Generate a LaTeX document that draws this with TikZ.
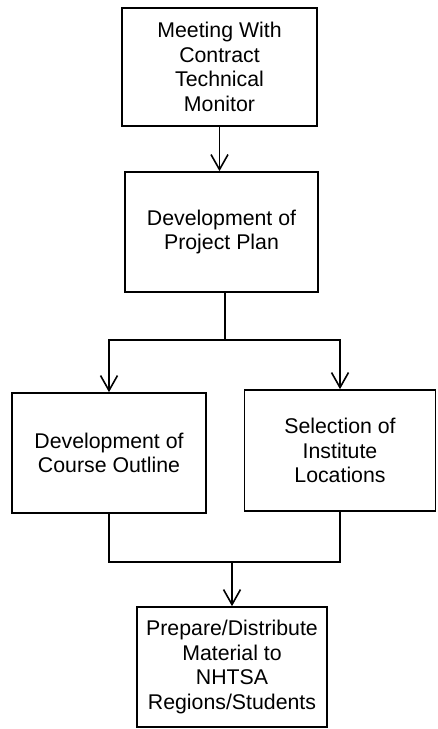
\documentclass[tikz,border=0pt]{standalone}
\usepackage{fontspec}
\setmainfont{Liberation Sans}
\usetikzlibrary{arrows.meta}
\begin{document}
\begin{tikzpicture}[x=1pt,y=-1pt,
  box/.style={draw, line width=1.7pt, inner sep=0pt, align=center,
    font=\fontsize{21.3}{24.5}\selectfont},
  conn/.style={line width=1.7pt},
  arr/.style={conn, -{Straight Barb[length=15pt,width=17pt,line width=1.6pt]}}]
\useasboundingbox (0,0) rectangle (437,729);
\node[box, minimum width=195pt, minimum height=118pt] (b1) at (219.5,67) {Meeting With\\Contract\\Technical\\Monitor};
\node[box, minimum width=193pt, minimum height=120pt] (b2) at (221.5,232) {Development of\\Project Plan};
\node[box, minimum width=194pt, minimum height=120pt] (b3) at (109,453) {Development of\\Course Outline};
\node[box, minimum width=191pt, minimum height=121pt] (b4) at (340,450.5) {Selection of\\Institute\\Locations};
\node[box, minimum width=190pt, minimum height=120pt] (b5) at (232,667) {Prepare/Distribute\\Material to\\NHTSA\\Regions/Students};
\coordinate (j1) at (225,340);
\coordinate (j2) at (232,562);
\draw[arr] (b1.south) -- (b1.south |- b2.north);
\draw[conn] (b2.south -| j1) -- (j1);
\draw[arr] (j1) -| (b3.north);
\draw[arr] (j1) -| (b4.north);
\draw[conn] (b3.south) |- (j2) -| (b4.south);
\draw[arr] (j2) -- (b5.north);
\end{tikzpicture}
\end{document}
